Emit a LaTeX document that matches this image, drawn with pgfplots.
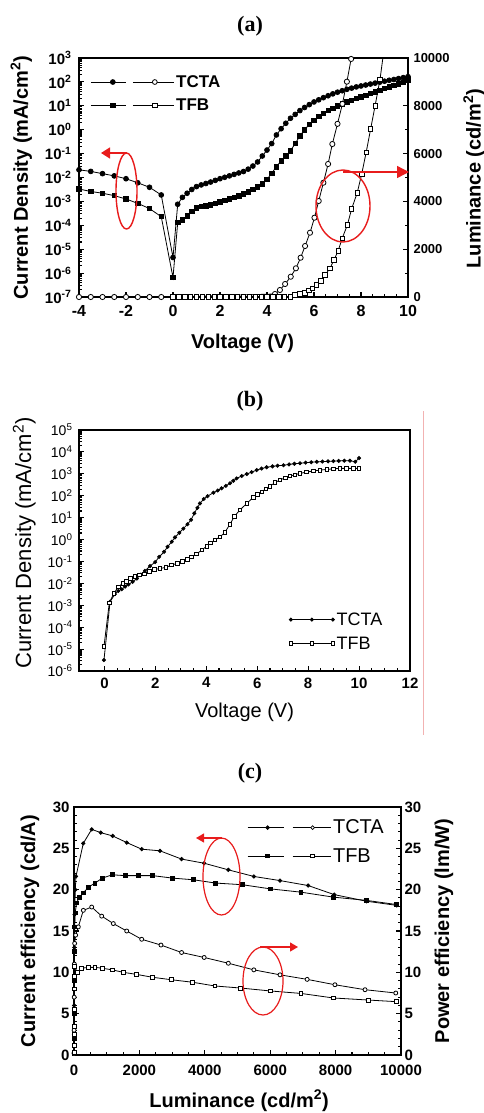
\documentclass[border=0pt]{standalone}
\usepackage{fontspec}
\setmainfont{Liberation Sans}
\newfontfamily\serifbf{Liberation Serif}
\usepackage{pgfplots}
\pgfplotsset{compat=1.18}
\usetikzlibrary{arrows.meta}

\definecolor{annot}{RGB}{232,28,28}
\definecolor{sidebar}{RGB}{242,178,178}
\newcommand\fs[1]{\fontsize{#1}{#1}\selectfont}

\pgfplotsset{
  panel/.style={
    scale only axis, anchor=south west,
    axis line style={line width=1.8pt},
    tick style={black, line width=1.1pt},
    major tick length=5pt, minor tick length=3pt,
    /pgf/number format/assume math mode=true,
    /pgf/number format/1000 sep={},
    scaled ticks=false,
  },
  % legend picture: line + filled mark, line + open mark
  pairleg/.style n args={6}{legend image code/.code={
      \draw[black, line width=0.8pt] (0pt,0pt) -- (#3pt,0pt) (#4pt,0pt) -- (#5pt,0pt);
      \draw[black, line width=0.8pt] plot[only marks, mark=#1, mark size=#6pt, mark options={fill=black}] coordinates {(#2pt,0pt)};
      \draw[black, line width=0.8pt] plot[only marks, mark=#1, mark size=#6pt, mark options={fill=white}] coordinates {(#4pt+#2pt,0pt)};
  }},
}

\begin{document}
\begin{tikzpicture}[x=1pt,y=1pt]
\useasboundingbox (0,0) rectangle (484,-1113);

% ---------------- (a) ----------------
\node[font=\serifbf\bfseries\fs{22}] at (250,-26) {(a)};

\begin{axis}[panel,
  at={(79pt,-297pt)}, width=329pt, height=239pt,
  xmin=-4, xmax=10, ymode=log, ymin=1e-7, ymax=1e3,
  xtick={-4,-2,...,10}, minor x tick num=3,
  ytickten={-7,...,3},
  yticklabels={10\textsuperscript{-7},10\textsuperscript{-6},10\textsuperscript{-5},10\textsuperscript{-4},10\textsuperscript{-3},10\textsuperscript{-2},10\textsuperscript{-1},10\textsuperscript{0},10\textsuperscript{1},10\textsuperscript{2},10\textsuperscript{3}},
  xtick pos=bottom, ytick pos=left,
  xticklabel style={font=\bfseries\fs{16}, yshift=-5pt},
  yticklabel style={font=\bfseries\fs{15}, xshift=-4pt},
  xlabel={Voltage (V)}, ylabel={Current Density (mA/cm\textsuperscript{2})},
  label style={font=\bfseries\fs{20}},
  xlabel style={at={(axis description cs:0.497,-0.192)}, anchor=center},
  ylabel style={at={(axis description cs:-0.175,0.5)}, anchor=center},
  legend cell align=left,
  legend style={at={(axis description cs:0.025,0.945)}, anchor=north west,
    draw=none, fill=none, font=\bfseries\fs{17}, row sep=6pt},
]
\addplot[black, line width=0.8pt, mark=*, mark size=2.4pt,
  pairleg={*}{22}{35}{42}{83}{2.4}]
  coordinates {(-4,2.1e-2) (-3.5,1.8e-2) (-3,1.45e-2) (-2.5,1.17e-2) (-2,8.9e-3) (-1.5,6.0e-3) (-1,3.9e-3) (-0.5,1.86e-3) (0,4.5e-6)
    (0.2,7.6e-4) (0.4,1.48e-3) (0.6,2.19e-3) (0.8,3.16e-3) (1.0,4.17e-3) (1.2,4.9e-3) (1.4,5.62e-3) (1.6,6.46e-3) (1.8,7.59e-3)
    (2.0,8.91e-3) (2.2,1.02e-2) (2.4,1.17e-2) (2.6,1.35e-2) (2.8,1.55e-2) (3.0,1.78e-2) (3.2,2.24e-2) (3.4,3.02e-2) (3.6,4.47e-2)
    (3.8,7.94e-2) (4.0,0.141) (4.2,0.263) (4.4,0.603) (4.6,1.10) (4.8,1.86) (5.0,3.02) (5.2,4.37) (5.4,6.31) (5.6,8.51) (5.8,11.2)
    (6.0,14.5) (6.2,17.8) (6.4,21.9) (6.6,26.3) (6.8,31.6) (7.0,37.2) (7.2,42.7) (7.4,49.0) (7.6,55.0) (7.8,61.7) (8.0,67.6)
    (8.2,74.1) (8.4,81.3) (8.6,89.1) (8.8,97.7) (9.0,107) (9.2,117) (9.4,126) (9.6,138) (9.8,151) (10,166)};
\addlegendentry{TCTA}
\addplot[black, line width=0.8pt, mark=square*, mark size=2.2pt,
  pairleg={square*}{22}{35}{42}{83}{2.2}]
  coordinates {(-4,3.3e-3) (-3.5,2.6e-3) (-3,2.2e-3) (-2.5,1.74e-3) (-2,1.26e-3) (-1.5,8.3e-4) (-1,5.0e-4) (-0.5,2.3e-4) (0,6.5e-7)
    (0.2,1.29e-4) (0.4,1.66e-4) (0.6,2.51e-4) (0.8,3.8e-4) (1.0,5.37e-4) (1.2,6.17e-4) (1.4,6.61e-4) (1.6,7.24e-4) (1.8,8.32e-4)
    (2.0,9.55e-4) (2.2,1.10e-3) (2.4,1.26e-3) (2.6,1.45e-3) (2.8,1.70e-3) (3.0,2.04e-3) (3.2,2.51e-3) (3.4,3.16e-3) (3.6,4.07e-3)
    (3.8,5.5e-3) (4.0,8.32e-3) (4.2,1.51e-2) (4.4,2.82e-2) (4.6,5.01e-2) (4.8,7.94e-2) (5.0,0.132) (5.2,0.263) (5.4,0.55) (5.6,1.0)
    (5.8,1.66) (6.0,2.51) (6.2,3.55) (6.4,4.90) (6.6,6.31) (6.8,7.94) (7.0,9.77) (7.2,12.0) (7.4,14.5) (7.6,17.0) (7.8,20.0)
    (8.0,23.4) (8.2,27.5) (8.4,32.4) (8.6,38.0) (8.8,44.7) (9.0,52.5) (9.2,61.7) (9.4,70.8) (9.6,83.2) (9.8,97.7) (10,120)};
\addlegendentry{TFB}
\end{axis}

\begin{axis}[panel,
  at={(79pt,-297pt)}, width=329pt, height=239pt,
  xmin=-4, xmax=10, ymin=0, ymax=10000,
  axis x line=none, axis y line*=right,
  ytick={0,2000,...,10000}, minor y tick num=1,
  yticklabel style={font=\bfseries\fs{13}, xshift=2pt},
  ylabel={Luminance (cd/m\textsuperscript{2})},
  label style={font=\bfseries\fs{20}},
  ylabel style={at={(axis description cs:1.2006,0.495)}, anchor=center},
]
\addplot[black, line width=0.8pt, mark=*, mark size=2.6pt, mark options={fill=white}]
  coordinates {(-4,0) (-3.5,0) (-3,0) (-2.5,0) (-2,0) (-1.5,0) (-1,0) (-0.5,0) (0,0)
    (4.34,126) (4.55,293) (4.77,544) (5.01,849) (5.23,1201) (5.43,1644) (5.62,2134) (5.83,2690)
    (6.02,3318) (6.2,4017) (6.4,4782) (6.6,5565) (6.78,6400) (7.0,7245) (7.21,8080) (7.4,9010) (7.58,9960)};
\addplot[black, line width=0.8pt, mark=square*, mark size=2.2pt, mark options={fill=white}]
  coordinates {(0,0) (0.25,0) (0.5,0) (0.75,0) (1,0) (1.25,0) (1.5,0) (1.75,0) (2,0) (2.25,0) (2.5,0) (2.75,0) (3,0)
    (3.25,0) (3.5,0) (3.75,0) (4,0) (4.25,0) (4.5,0) (4.75,0) (5.0,0)
    (5.19,84) (5.4,126) (5.62,180) (5.79,264) (5.94,364) (6.11,502) (6.29,682) (6.47,920) (6.68,1201) (6.85,1548)
    (7.03,1937) (7.2,2456) (7.42,3013) (7.6,3682) (7.84,4364) (8.03,5146) (8.22,6054) (8.41,7029) (8.6,8004) (8.81,9109)};
\addplot[black, line width=0.8pt] coordinates {(8.81,9109) (8.93,10000)};
\end{axis}

% annotations (a)
\draw[annot, line width=1.4pt] (126.5,-191) ellipse [x radius=10.5, y radius=38];
\draw[annot, line width=1.4pt, -{Triangle[length=9pt,width=11pt]}] (127,-153) -- (101,-153);
\draw[annot, line width=1.4pt] (343,-206) ellipse [x radius=27, y radius=36];
\draw[annot, line width=1.4pt, -{Triangle[length=12pt,width=12pt]}] (343,-172) -- (409,-172);

% ---------------- (b) ----------------
\node[font=\serifbf\bfseries\fs{22}] at (250,-401) {(b)};
\draw[sidebar, line width=0.7pt] (423,-411) -- (423,-735);

\begin{axis}[panel,
  at={(79pt,-671pt)}, width=331pt, height=241pt,
  xmin=-1, xmax=12, ymode=log, ymin=1e-6, ymax=1e5,
  xtick={0,2,...,12}, minor x tick num=3,
  ytickten={-6,...,5},
  yticklabels={10\textsuperscript{-6},10\textsuperscript{-5},10\textsuperscript{-4},10\textsuperscript{-3},10\textsuperscript{-2},10\textsuperscript{-1},10\textsuperscript{0},10\textsuperscript{1},10\textsuperscript{2},10\textsuperscript{3},10\textsuperscript{4},10\textsuperscript{5}},
  xtick pos=bottom, ytick pos=left,
  xticklabel style={font=\bfseries\fs{15}, yshift=-3pt},
  yticklabel style={font=\fs{14}, xshift=-3pt},
  xlabel={Voltage (V)}, ylabel={Current Density (mA/cm\textsuperscript{2})},
  label style={font=\fs{20}},
  xlabel style={at={(axis description cs:0.5,-0.17)}, anchor=center},
  ylabel style={at={(axis description cs:-0.165,0.531)}, anchor=center, font=\fs{22}},
  legend cell align=left,
  legend image code/.code={\draw[#1] plot coordinates {(0pt,0pt) (21pt,0pt) (42pt,0pt)};},
  legend style={at={(axis description cs:0.625,0.26)}, anchor=north west,
    draw=none, fill=none, font=\fs{18}, row sep=6pt},
]
\addplot[black, line width=0.8pt, mark=*, mark size=1.6pt, mark repeat=1]
  coordinates {(-0.02,3.16e-6) (0.22,1.445e-3) (0.41,3.24e-3) (0.54,4.47e-3) (0.68,5.37e-3) (0.81,7.08e-3) (0.94,8.91e-3)
    (1.11,1.175e-2) (1.27,1.66e-2) (1.43,2.51e-2) (1.59,3.72e-2) (1.79,6.17e-2) (1.99,9.33e-2) (2.15,0.162) (2.34,0.275)
    (2.48,0.468) (2.64,0.794) (2.77,1.26) (2.94,2.04) (3.1,3.16) (3.26,5.01) (3.4,7.94) (3.53,15.8) (3.65,28.2) (3.75,44.7)
    (3.9,70.8) (4.05,95.5) (4.28,138) (4.45,174) (4.6,219) (4.77,282) (4.93,372) (5.06,479) (5.19,617) (5.39,794) (5.59,977)
    (5.78,1202) (5.98,1479) (6.17,1738) (6.37,1995) (6.6,2188) (6.8,2344) (7.03,2455) (7.25,2692) (7.46,2884) (7.68,3020)
    (7.9,3236) (8.12,3388) (8.34,3548) (8.56,3631) (8.78,3715) (8.99,3802) (9.2,3890) (9.42,3981) (9.64,3981) (9.85,3548) (10.0,5248)};
\addlegendentry{TCTA}
\addplot[black, line width=0.8pt, mark=square*, mark size=1.8pt, mark options={fill=white}]
  coordinates {(-0.02,1.29e-5) (0.19,1.29e-3) (0.37,3.47e-3) (0.54,6.92e-3) (0.72,1.0e-2) (0.87,1.26e-2) (1.03,1.66e-2)
    (1.2,2.14e-2) (1.37,2.40e-2) (1.57,2.75e-2) (1.76,3.55e-2) (1.97,4.27e-2) (2.18,4.79e-2) (2.42,5.37e-2) (2.64,6.92e-2)
    (2.86,8.13e-2) (3.07,0.1) (3.25,0.126) (3.42,0.162) (3.62,0.219) (3.82,0.331) (4.02,0.501) (4.17,0.708) (4.34,0.955)
    (4.54,1.32) (4.73,2.14) (4.93,5.01) (5.11,11.7) (5.32,22.4) (5.59,44.7) (5.85,85.1) (6.0,112) (6.18,151) (6.34,209)
    (6.5,275) (6.7,398) (6.89,525) (7.1,661) (7.29,794) (7.48,912) (7.68,1047) (7.94,1202) (8.2,1349) (8.46,1479)
    (8.73,1585) (9.0,1698) (9.25,1778) (9.5,1778) (9.77,1778) (10.0,1778)};
\addlegendentry{TFB}
\end{axis}

% ---------------- (c) ----------------
\node[font=\serifbf\bfseries\fs{22}] at (250,-773) {(c)};

\begin{axis}[panel,
  at={(74pt,-1055pt)}, width=327pt, height=248pt,
  xmin=0, xmax=10000, ymin=0, ymax=30,
  xtick={0,2000,...,10000}, minor x tick num=3,
  ytick={0,5,...,30}, minor y tick num=4,
  xtick pos=bottom, ytick pos=left,
  xticklabel style={font=\bfseries\fs{15}, yshift=-6pt},
  yticklabel style={font=\bfseries\fs{15}, xshift=-1pt},
  xlabel={Luminance (cd/m\textsuperscript{2})}, ylabel={Current efficiency (cd/A)},
  label style={font=\bfseries\fs{20}},
  xlabel style={at={(axis description cs:0.505,-0.185)}, anchor=center},
  ylabel style={at={(axis description cs:-0.135,0.5)}, anchor=center},
  legend cell align=left,
  legend style={at={(axis description cs:0.52,0.965)}, anchor=north west,
    draw=none, fill=none, font=\fs{20}, row sep=9pt},
]
\addplot[black, line width=0.8pt, mark=*, mark size=1.7pt,
  pairleg={*}{20}{36}{45}{83}{1.9}]
  coordinates {(0,0.3) (2,2.5) (5,6) (8,9.5) (12,13) (20,17) (40,20) (60,21.6) (284,25.6) (541,27.3) (817,26.9) (1183,26.5)
    (1612,25.7) (2070,24.9) (2630,24.7) (3290,23.7) (3980,23.2) (4720,22.4) (5500,21.6) (6300,21.1) (7160,20.5) (7960,19.4)
    (8950,18.6) (9870,18.1)};
\addlegendentry{TCTA}
\addplot[black, line width=0.8pt, mark=square*, mark size=1.9pt,
  pairleg={square*}{20}{36}{45}{83}{1.9}]
  coordinates {(0,0.2) (3,2) (6,5) (10,9) (15,12.5) (22,15.5) (35,17.2) (82,18.4) (163,19.1) (285,19.6) (437,20.3) (642,20.8)
    (866,21.4) (1171,21.8) (1560,21.7) (1966,21.7) (2407,21.7) (3010,21.4) (3650,21.2) (4330,20.8) (5150,20.6) (6000,20.1)
    (6940,19.7) (7930,19.1) (8950,18.7) (9870,18.2)};
\addlegendentry{TFB}
\end{axis}

\begin{axis}[panel,
  at={(74pt,-1055pt)}, width=327pt, height=248pt,
  xmin=0, xmax=10000, ymin=0, ymax=30,
  axis x line=none, axis y line*=right,
  ytick={0,5,...,30}, minor y tick num=4,
  yticklabel style={font=\bfseries\fs{15}},
  ylabel={Power efficiency (lm/W)},
  label style={font=\bfseries\fs{20}},
  ylabel style={at={(axis description cs:1.131,0.5)}, anchor=center},
]
\addplot[black, line width=0.8pt, mark=*, mark size=2pt, mark options={fill=white}]
  coordinates {(0,0.2) (3,3) (6,7) (10,11) (20,13.5) (50,14.5) (132,15.5) (285,17.5) (541,17.9) (847,16.8) (1202,15.9)
    (1612,15.0) (2070,14.0) (2660,13.3) (3290,12.4) (3980,11.8) (4720,11.1) (5500,10.3) (6300,9.7) (7130,9.15) (7980,8.5)
    (8900,7.9) (9840,7.5)};
\addplot[black, line width=0.8pt, mark=square*, mark size=1.9pt, mark options={fill=white}]
  coordinates {(0,0.3) (3,1.2) (5,2.5) (7,3.5) (9,5.5) (12,8) (16,9.5) (20,10.7) (101,10.0) (235,10.5) (437,10.6) (642,10.6)
    (866,10.5) (1171,10.3) (1508,10.0) (1917,9.75) (2407,9.4) (2990,9.1) (3630,8.8) (4310,8.35) (5100,8.1) (6000,7.75)
    (6940,7.45) (7930,6.9) (9000,6.65) (9870,6.45)};
\end{axis}

% annotations (c)
\draw[annot, line width=1.2pt] (221.5,-876.5) ellipse [x radius=18.5, y radius=38.5];
\draw[annot, line width=1.2pt, -{Triangle[length=8pt,width=9pt]}] (222,-838) -- (196,-838);
\draw[annot, line width=1.2pt] (263,-981) ellipse [x radius=20, y radius=34];
\draw[annot, line width=1.2pt, -{Triangle[length=8pt,width=9pt]}] (260,-947) -- (298,-947);

\end{tikzpicture}
\end{document}
